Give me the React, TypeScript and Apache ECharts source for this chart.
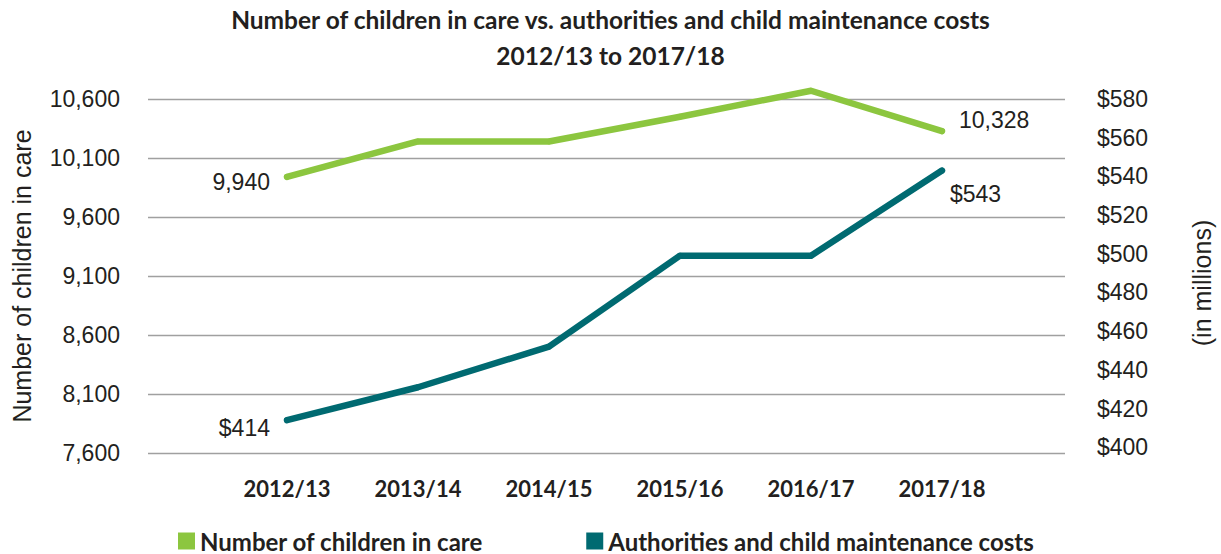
import React, { useEffect, useRef } from "react";
import * as echarts from "echarts";

const categories = ["2012/13", "2013/14", "2014/15", "2015/16", "2016/17", "2017/18"];
const childrenInCare = [9940, 10240, 10240, 10450, 10670, 10328];
const maintenanceCosts = [414, 431, 452, 499, 499, 543];
const leftTicks = [7600, 8100, 8600, 9100, 9600, 10100, 10600];
const rightTicks = [400, 420, 440, 460, 480, 500, 520, 540, 560, 580];
const seriesNames = ["Number of children in care", "Authorities and child maintenance costs"];

const GREEN = "#8CC63F";
const TEAL = "#006A71";
const TEXT = "#231F20";
const LABEL_FONT = "'Liberation Sans', Arial, sans-serif";
const BOLD_FONT = "Lato, 'Open Sans', sans-serif";

const fmtNum = (v: number) => v.toLocaleString("en-US");
const fmtMoney = (v: number) => "$" + v;

export default function App() {
  const ref = useRef<HTMLDivElement>(null);
  useEffect(() => {
    if (!ref.current) return;
    const chart = echarts.init(ref.current, null, { renderer: "svg" });
    const labelBase = { show: true, color: TEXT, fontSize: 23, fontFamily: LABEL_FONT };
    const last = categories.length - 1;
    const greenData = childrenInCare.map((v, i) => {
      if (i === 0) return { value: [i, v], label: { ...labelBase, position: "left", distance: 14, offset: [0, 5], formatter: () => fmtNum(v) } };
      if (i === last) return { value: [i, v], label: { ...labelBase, position: "right", distance: 14, offset: [0, -11], formatter: () => fmtNum(v) } };
      return { value: [i, v] };
    });
    const tealData = maintenanceCosts.map((v, i) => {
      if (i === 0) return { value: [i, v], label: { ...labelBase, position: "left", distance: 14, offset: [0, 8], formatter: () => fmtMoney(v) } };
      if (i === last) return { value: [i, v], label: { ...labelBase, position: "right", distance: 5, offset: [0, 23], formatter: () => fmtMoney(v) } };
      return { value: [i, v] };
    });
    const lineSeries = (name: string, yAxisIndex: number, data: any[], color: string, z: number) => ({
      name,
      type: "line",
      yAxisIndex,
      data,
      clip: false,
      symbol: "circle",
      symbolSize: 6,
      showSymbol: true,
      color,
      itemStyle: { color, borderWidth: 0 },
      lineStyle: { color, width: 6.5, cap: "round", join: "round" },
      emphasis: { disabled: true },
      z,
    });
    chart.setOption({
      animation: false,
      backgroundColor: "#ffffff",
      title: {
        text: "Number of children in care vs. authorities and child maintenance costs\n2012/13 to 2017/18",
        left: "center",
        top: 1,
        padding: 0,
        textStyle: { fontFamily: BOLD_FONT, fontWeight: "bold", fontSize: 24.5, lineHeight: 36, color: TEXT },
      },
      legend: {
        data: seriesNames,
        left: 173,
        top: 524,
        itemWidth: 17,
        itemHeight: 17,
        itemGap: 103,
        icon: "rect",
        selectedMode: false,
        textStyle: { fontFamily: BOLD_FONT, fontWeight: "bold", fontSize: 24, color: TEXT },
      },
      grid: { left: 148, right: 156, top: 99, bottom: 101, containLabel: false, outerBoundsMode: "none" },
      xAxis: {
        type: "value",
        min: -1.061,
        max: 5.939,
        axisLine: { show: false },
        axisTick: { show: false },
        splitLine: { show: false },
        axisLabel: {
          customValues: categories.map((_, i) => i),
          formatter: (v: number) => categories[Math.round(v)] ?? "",
          margin: 24,
          fontFamily: BOLD_FONT,
          fontWeight: "bold",
          fontSize: 22,
          color: TEXT,
        },
      },
      yAxis: [
        {
          type: "value",
          position: "left",
          min: 7600,
          max: 10600,
          name: "Number of children in care",
          nameLocation: "middle",
          nameRotate: 90,
          nameGap: 114,
          nameTextStyle: { fontFamily: LABEL_FONT, fontSize: 25, color: TEXT },
          axisLine: { show: false },
          axisTick: { show: false, customValues: leftTicks },
          axisLabel: { customValues: leftTicks, formatter: (v: number) => fmtNum(v), margin: 28, fontFamily: LABEL_FONT, fontSize: 23, color: TEXT },
          splitLine: { show: true, lineStyle: { color: "#A0A0A0", width: 1.4 } },
        },
        {
          type: "value",
          position: "right",
          min: 397,
          max: 580,
          name: "(in millions)",
          nameLocation: "middle",
          nameRotate: 90,
          nameGap: 124,
          nameTextStyle: { fontFamily: LABEL_FONT, fontSize: 25, color: TEXT, padding: [0, 14, 0, 0] },
          axisLine: { show: false },
          axisTick: { show: false, customValues: rightTicks },
          axisLabel: { customValues: rightTicks, formatter: (v: number) => fmtMoney(v), margin: 32, fontFamily: LABEL_FONT, fontSize: 23, color: TEXT },
          splitLine: { show: false },
        },
      ],
      series: [
        lineSeries(seriesNames[0], 0, greenData, GREEN, 3),
        lineSeries(seriesNames[1], 1, tealData, TEAL, 2),
      ],
    });
    return () => chart.dispose();
  }, []);
  return <div ref={ref} style={{ position: "fixed", left: 0, top: 0, width: 1221, height: 554 }} />;
}
